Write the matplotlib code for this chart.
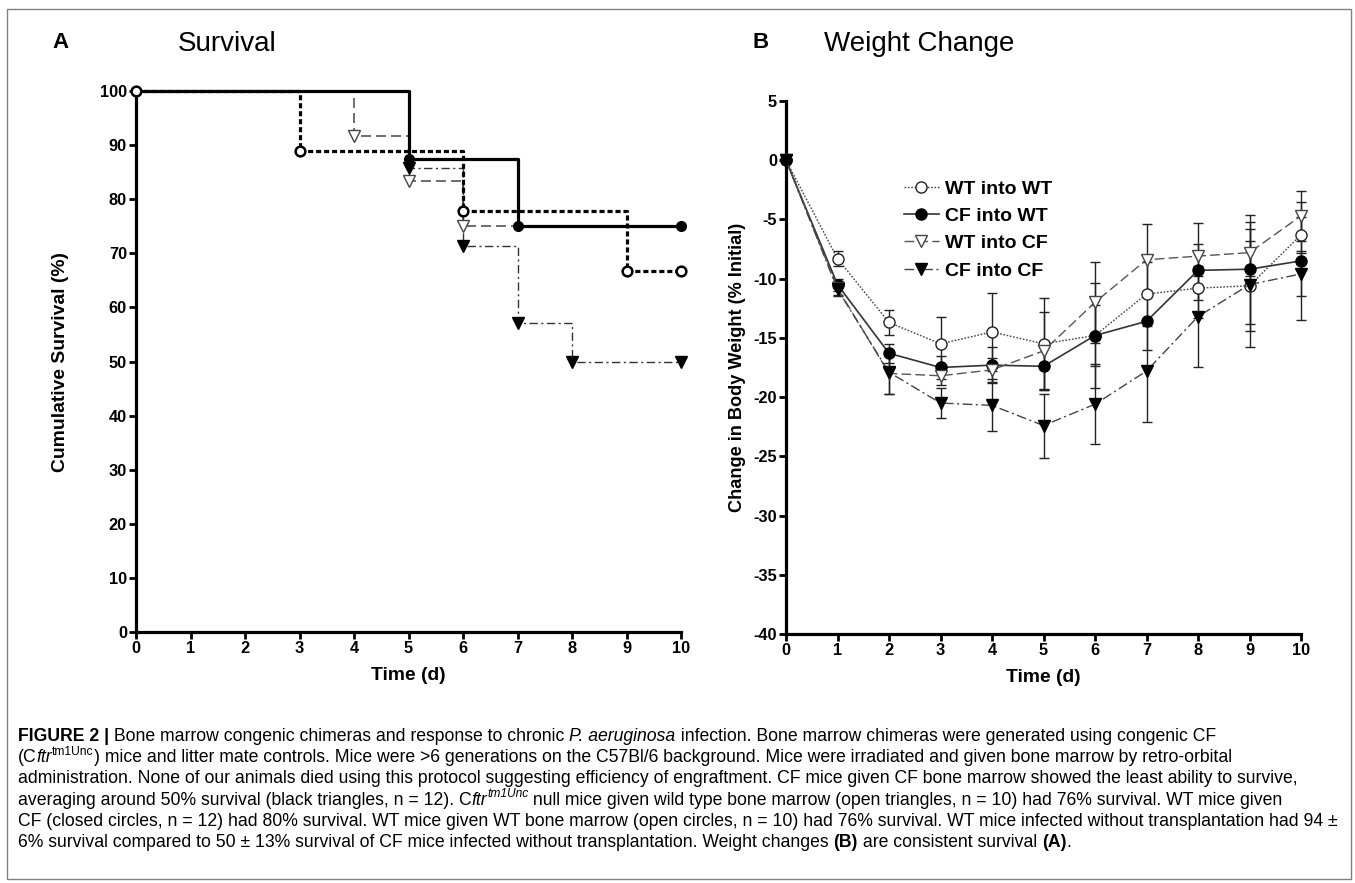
import matplotlib
matplotlib.use('Agg')
import matplotlib.pyplot as plt
from matplotlib import font_manager as fm
from matplotlib.patches import Rectangle

# ---------------- data ----------------
days = [0, 1, 2, 3, 4, 5, 6, 7, 8, 9, 10]
groups = ['WT into WT', 'CF into WT', 'WT into CF', 'CF into CF']

# Survival (Kaplan-Meier steps)
surv_wtwt_t = [0, 3, 6, 9, 10]
surv_wtwt_s = [100, 88.9, 77.8, 66.7, 66.7]
surv_cfwt_t = [0, 5, 7, 10]
surv_cfwt_s = [100, 87.5, 75, 75]
surv_wtcf_t = [0, 4, 5, 6, 10]
surv_wtcf_s = [100, 91.7, 83.3, 75, 75]
surv_cfcf_t = [0, 5, 6, 7, 8, 10]
surv_cfcf_s = [100, 85.7, 71.4, 57.1, 50, 50]

# Weight change (% initial) and SEM
wt_wtwt = [0, -8.3, -13.7, -15.5, -14.5, -15.5, -14.8, -11.3, -10.8, -10.6, -6.3]
wt_cfwt = [0, -10.5, -16.3, -17.5, -17.3, -17.4, -14.8, -13.6, -9.3, -9.2, -8.5]
wt_wtcf = [0, -10.8, -18.0, -18.2, -17.7, -16.1, -12.0, -8.4, -8.1, -7.8, -4.7]
wt_cfcf = [0, -10.9, -17.9, -20.5, -20.7, -22.4, -20.6, -17.8, -13.2, -10.5, -9.6]
err_wtwt = [0, 0.6, 1.05, 2.3, 3.3, 3.9, 4.4, 2.7, 1.0, 3.8, 1.5]
err_cfwt = [0, 0.5, 0.8, 1.0, 1.5, 1.9, 2.6, 2.4, 4.0, 4.6, 5.0]
err_wtcf = [0, 0.6, 1.7, 0.8, 1.0, 3.3, 3.4, 3.0, 1.0, 2.0, 2.1]
err_cfcf = [0, 0.6, 1.8, 1.3, 2.2, 2.7, 3.4, 4.3, 4.3, 5.3, 1.9]

surv_yticks = list(range(0, 101, 10))
wt_yticks = list(range(-40, 6, 5))

caption_lines = [
    [("FIGURE 2 |", "b"), (" Bone marrow congenic chimeras and response to chronic ", ""), ("P. aeruginosa", "i"),
     (" infection. Bone marrow chimeras were generated using congenic CF", "")],
    [("(C", ""), ("ftr", "i"), ("tm1Unc", "s"),
     (") mice and litter mate controls. Mice were >6 generations on the C57Bl/6 background. Mice were irradiated and given bone marrow by retro-orbital", "")],
    [("administration. None of our animals died using this protocol suggesting efficiency of engraftment. CF mice given CF bone marrow showed the least ability to survive,", "")],
    [("averaging around 50% survival (black triangles, n = 12). C", ""), ("ftr", "i"), ("tm1Unc", "si"),
     (" null mice given wild type bone marrow (open triangles, n = 10) had 76% survival. WT mice given", "")],
    [("CF (closed circles, n = 12) had 80% survival. WT mice given WT bone marrow (open circles, n = 10) had 76% survival. WT mice infected without transplantation had 94 \u00b1", "")],
    [("6% survival compared to 50 \u00b1 13% survival of CF mice infected without transplantation. Weight changes ", ""),
     ("(B)", "b"), (" are consistent survival ", ""), ("(A)", "b"), (".", "")],
]

# ---------------- fonts ----------------
names = {f.name for f in fm.fontManager.ttflist}
HAS_NARROW = 'Liberation Sans Narrow' in names
NARROW = 'Liberation Sans Narrow' if HAS_NARROW else 'Liberation Sans'
NSCALE = 1.0 if HAS_NARROW else 0.84
REG = 'Liberation Sans'
plt.rcParams['font.family'] = [REG, 'DejaVu Sans']
plt.rcParams['axes.unicode_minus'] = False

W, H = 1355, 883
fig = plt.figure(figsize=(W / 100, H / 100), dpi=100)


def fx(px):
    return px / W


def fy(py):
    return 1 - py / H


def axes_px(x0, x1, ytop, ybot):
    return fig.add_axes([fx(x0), fy(ybot), (x1 - x0) / W, (ybot - ytop) / H])


# outer frame
fig.patches.append(Rectangle((fx(7), fy(879)), (1351 - 7) / W, (879 - 9) / H, transform=fig.transFigure,
                             fill=False, edgecolor='#808080', lw=1.0))

TICK_FS = 14 * NSCALE
LABEL_FS = 16.5 * NSCALE


def style_axes(ax):
    for s in ['top', 'right']:
        ax.spines[s].set_visible(False)
    for s in ['left', 'bottom']:
        ax.spines[s].set_linewidth(2.3)
    ax.tick_params(width=2.0, length=5, direction='out', pad=1.5)
    for lab in ax.get_xticklabels() + ax.get_yticklabels():
        lab.set_fontfamily(NARROW)
        lab.set_fontweight('bold')
        lab.set_fontsize(TICK_FS)


# ---------------- Panel A ----------------
axA = axes_px(136, 681, 91, 632)
axA.set_xlim(0, 10)
axA.set_ylim(0, 100)
axA.set_xticks(days)
axA.set_yticks(surv_yticks)

axA.step(surv_cfwt_t, surv_cfwt_s, where='post', color='black', lw=2.3, clip_on=False, zorder=4)
axA.plot(surv_cfwt_t[1:], surv_cfwt_s[1:], 'o', color='black', ms=7, clip_on=False, zorder=5)

axA.step(surv_wtwt_t, surv_wtwt_s, where='post', color='black', lw=2.3, dashes=(1.6, 0.9), clip_on=False, zorder=4)
axA.plot(surv_wtwt_t, surv_wtwt_s, 'o', mfc='white', mec='black', mew=1.8, ms=7, clip_on=False, zorder=5)

axA.step(surv_wtcf_t, surv_wtcf_s, where='post', color='#555555', lw=1.2, dashes=(6, 3), clip_on=False, zorder=3)
axA.plot(surv_wtcf_t[1:-1], surv_wtcf_s[1:-1], 'v', mfc='white', mec='#444444', mew=1.0, ms=8, clip_on=False, zorder=5)

axA.step(surv_cfcf_t, surv_cfcf_s, where='post', color='#333333', lw=1.0, dashes=(6, 2.5, 1.5, 2.5), clip_on=False, zorder=3)
axA.plot(surv_cfcf_t[1:], surv_cfcf_s[1:], 'v', color='black', ms=8, clip_on=False, zorder=5)

style_axes(axA)
axA.set_xlabel('Time (d)', fontfamily=NARROW, fontweight='bold', fontsize=LABEL_FS, labelpad=8)
axA.set_ylabel('Cumulative Survival (%)', fontfamily=NARROW, fontweight='bold', fontsize=LABEL_FS, labelpad=22)

# ---------------- Panel B ----------------
axB = axes_px(786, 1301, 101, 634)
axB.set_xlim(0, 10)
axB.set_ylim(-40, 5)
axB.set_xticks(days)
axB.set_yticks(wt_yticks)

specs = [
    (wt_wtwt, err_wtwt, dict(color='#444444', lw=1.0, dashes=(1.2, 1.2)), dict(marker='o', mfc='white', mec='#222222', mew=1.0, ms=8)),
    (wt_cfwt, err_cfwt, dict(color='#333333', lw=1.2), dict(marker='o', mfc='black', mec='black', ms=8)),
    (wt_wtcf, err_wtcf, dict(color='#555555', lw=1.0, dashes=(7, 3)), dict(marker='v', mfc='white', mec='#444444', mew=1.0, ms=9)),
    (wt_cfcf, err_cfcf, dict(color='#444444', lw=1.0, dashes=(7, 2.5, 1.5, 2.5)), dict(marker='v', mfc='black', mec='black', ms=9)),
]
handles = []
for (vals, errs, lkw, mkw), name in zip(specs, groups):
    axB.errorbar(days, vals, yerr=errs, fmt='none', ecolor='#222222', elinewidth=1.0, capsize=3.8, capthick=1.0,
                 zorder=2, clip_on=False)
    h, = axB.plot(days, vals, label=name, clip_on=False, zorder=4, **lkw, **mkw)
    handles.append(h)

style_axes(axB)
axB.set_xlabel('Time (d)', fontfamily=NARROW, fontweight='bold', fontsize=LABEL_FS, labelpad=8)
axB.set_ylabel('Change in Body Weight (% Initial)', fontfamily=NARROW, fontweight='bold', fontsize=15.5 * NSCALE, labelpad=5)

leg = fig.legend(handles=handles, loc='upper left', bbox_to_anchor=(fx(904), fy(180)), frameon=False,
                 borderpad=0, borderaxespad=0, handlelength=1.8, handletextpad=0.3, labelspacing=0.5,
                 prop=dict(family=REG, weight='bold', size=14))

# ---------------- titles ----------------
fig.text(fx(52), fy(42), 'A', fontsize=16, fontweight='bold', va='center', ha='left')
fig.text(fx(178), fy(44), 'Survival', fontsize=20, va='center', ha='left')
fig.text(fx(752), fy(42), 'B', fontsize=16, fontweight='bold', va='center', ha='left')
fig.text(fx(824), fy(44), 'Weight Change', fontsize=20, va='center', ha='left')

# ---------------- caption ----------------
renderer = fig.canvas.get_renderer()


def seg_kw(style, size, fam):
    kw = dict(fontsize=size, family=fam)
    if 'b' in style:
        kw['fontweight'] = 'bold'
    if 'i' in style:
        kw['fontstyle'] = 'italic'
    if 's' in style:
        kw['fontsize'] = size * 0.68
    return kw


def line_width(segs, size, fam):
    total = 0
    for txt, st in segs:
        t = fig.text(0, 0, txt, **seg_kw(st, size, fam))
        total += t.get_window_extent(renderer).width
        t.remove()
    return total


CAP_FAM = NARROW
base = 12.0
cap_size = min(base * (1325 / line_width(segs, base, CAP_FAM)) for segs in caption_lines[:5])

y = 741
for segs in caption_lines:
    x = 18
    for txt, st in segs:
        kw = seg_kw(st, cap_size, CAP_FAM)
        dy = cap_size * 100 / 72 * 0.42 if 's' in st else 0
        t = fig.text(fx(x), fy(y - dy), txt, va='baseline', ha='left', **kw)
        x += t.get_window_extent(renderer).width
    y += 21.2

fig.savefig('out.png', dpi=100)
